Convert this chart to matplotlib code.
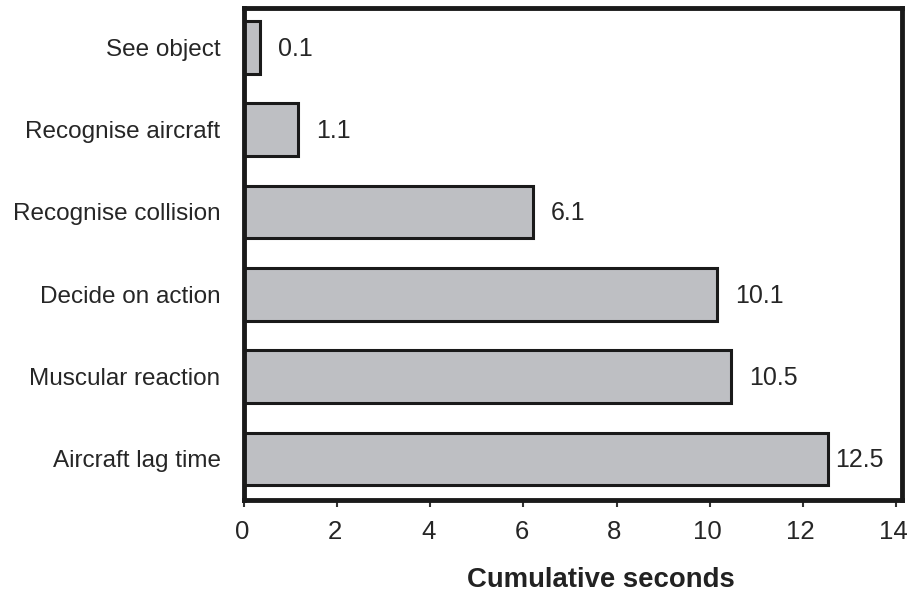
import matplotlib.pyplot as plt
from matplotlib.transforms import ScaledTranslation

steps = ["See object", "Recognise aircraft", "Recognise collision",
         "Decide on action", "Muscular reaction", "Aircraft lag time"]
bar_ends = [0.35, 1.15, 6.2, 10.15, 10.45, 12.55]     # drawn bar lengths
value_labels = ["0.1", "1.1", "6.1", "10.1", "10.5", "12.5"]
xticks = [0, 2, 4, 6, 8, 10, 12, 14]

plt.rcParams['font.family'] = ['Liberation Sans', 'DejaVu Sans']

fig = plt.figure(figsize=(9.11, 5.94), dpi=100)
ax = fig.add_axes([0.268, 0.158, 0.722, 0.829])

ypos = list(range(len(steps)))[::-1]   # first step at the top
bars = ax.barh(ypos, bar_ends, height=0.64, color="#bebfc3",
               edgecolor="#1a1a1a", linewidth=2.2)

for b, lab in zip(bars, value_labels):
    pad = 5 if b.get_width() > 12 else 13   # last label sits close to the frame
    ax.annotate(lab, (b.get_width(), b.get_y() + b.get_height() / 2),
                xytext=(pad, -1), textcoords="offset points",
                ha="left", va="center", fontsize=18, color="#262626")

ax.set_yticks(ypos)
ax.set_yticklabels(steps, fontsize=17.5, color="#262626")
ax.set_xticks(xticks)
ax.set_xticklabels([str(t) for t in xticks], fontsize=18.5, color="#262626")
ax.set_xlim(0, 14.13)
ax.set_ylim(-0.5, 5.48)

ax.tick_params(axis="y", length=0, pad=17)
ax.tick_params(axis="x", direction="out", length=5, width=1.5,
               color="#333333", pad=9)
shift = ScaledTranslation(-2 / 100, 0, fig.dpi_scale_trans)
for t in ax.get_xticklabels():
    t.set_transform(t.get_transform() + shift)
for sp in ax.spines.values():
    sp.set_linewidth(3.5)
    sp.set_color("#1a1a1a")

ax.set_xlabel("Cumulative seconds", fontsize=19.8, fontweight="bold",
              color="#222222", labelpad=18)
ax.xaxis.set_label_coords(0.543, -0.135)

plt.savefig("out.png")
